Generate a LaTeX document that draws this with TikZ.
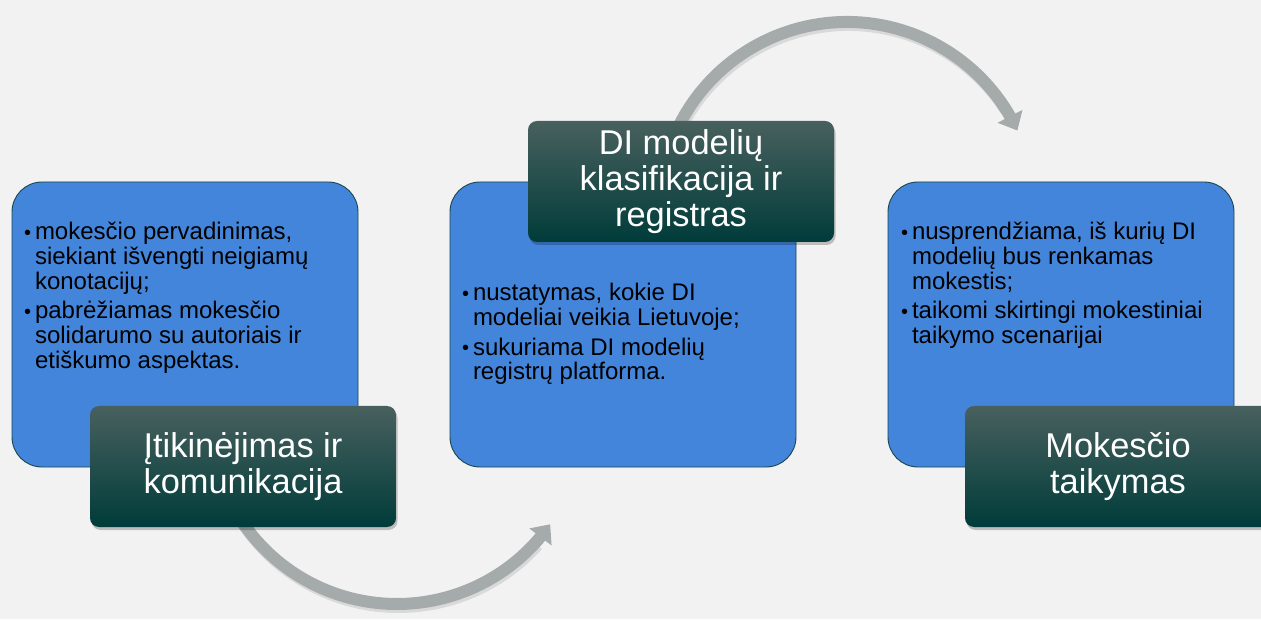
\documentclass[tikz,border=0pt]{standalone}
\usepackage{fontspec}
\setmainfont{Liberation Sans}
\usetikzlibrary{arrows.meta,shadows,calc,bending}
\definecolor{bgc}{RGB}{242,242,242}
\definecolor{bluefill}{RGB}{67,133,219}
\definecolor{blueedge}{RGB}{25,70,80}
\definecolor{dkt}{RGB}{72,96,94}
\definecolor{dkb}{RGB}{0,60,58}
\definecolor{arrowc}{RGB}{165,171,170}
\newcommand\bitem[1]{\hangindent=10pt\hangafter=1\makebox[10pt][l]{\hspace{-1pt}\raisebox{0.5pt}{\fontsize{20}{20}\selectfont•}}#1\par}
\begin{document}
\begin{tikzpicture}[x=1pt,y=1pt,
  bluebox/.style={draw=blueedge, line width=0.9pt, fill=bluefill, rounded corners=30pt,
    minimum width=346pt, minimum height=285pt, inner sep=0pt, outer sep=0pt},
  darkbox/.style={rounded corners=9pt, top color=dkt, middle color=dkb, bottom color=dkb,
    minimum width=306pt, minimum height=121pt, inner sep=0pt, outer sep=0pt,
    drop shadow={shadow xshift=1.5pt, shadow yshift=-3pt, opacity=0.22, fill=black},
    text=white, align=center, font=\fontsize{34.4}{36}\selectfont},
  bodytext/.style={anchor=base west, inner sep=0pt, outer sep=0pt, text=black,
    font=\fontsize{24}{24.8}\selectfont},
  cyclearrow/.style={draw=arrowc, line width=12pt, -{Triangle[width=27pt,length=16pt]}},
  arrowshadow/.style={draw=black, opacity=0.1, line width=12pt}
]
\useasboundingbox (0,0) rectangle (1261,619);
\fill[bgc] (0,0) rectangle (1261,619);
\clip (0,0) rectangle (1261,619);

% circular arrows
\coordinate (ctop) at (847,409);
\coordinate (cbot) at (397,202);
\coordinate (atops) at ($(ctop)+(160:188)$);
\coordinate (abots) at ($(cbot)+(210:187)$);
\draw[arrowshadow] ($(atops)+(1.5,-3)$) arc[start angle=160, end angle=33, radius=188pt];
\draw[arrowshadow] ($(abots)+(1.5,-3)$) arc[start angle=210, end angle=318, radius=187pt];
\draw[cyclearrow] (atops) arc[start angle=160, end angle=25, radius=188pt];
\draw[cyclearrow] (abots) arc[start angle=210, end angle=325, radius=187pt];

% blue boxes
\node[bluebox] (b1) at (185,294.5) {};
\node[bluebox] (b2) at (623,294.5) {};
\node[bluebox] (b3) at (1061,294.5) {};

% dark title boxes
\node[darkbox] (d1) at (243,152.5) {Įtikinėjimas ir\\komunikacija};
\node[darkbox] (d2) at (681,437.5) {DI modelių\\klasifikacija ir\\registras};
\node[darkbox] (d3) at (1118,152.5) {Mokesčio\\taikymas};

% body texts
\node[bodytext] (t1) at (25,379) {\parbox[t]{330pt}{\setlength\parskip{4.5pt}\setlength\parindent{0pt}%
\bitem{mokesčio pervadinimas,\\siekiant išvengti neigiamų\\konotacijų;}%
\bitem{pabrėžiamas mokesčio\\solidarumo su autoriais ir\\etiškumo aspektas.}}};
\node[bodytext] (t2) at (463,318) {\parbox[t]{330pt}{\setlength\parskip{4.5pt}\setlength\parindent{0pt}%
\bitem{nustatymas, kokie DI\\modeliai veikia Lietuvoje;}%
\bitem{sukuriama DI modelių\\registrų platforma.}}};
\node[bodytext] (t3) at (902,379) {\parbox[t]{330pt}{\setlength\parskip{4.5pt}\setlength\parindent{0pt}%
\bitem{nusprendžiama, iš kurių DI\\modelių bus renkamas\\mokestis;}%
\bitem{taikomi skirtingi mokestiniai\\taikymo scenarijai}}};
\end{tikzpicture}
\end{document}
